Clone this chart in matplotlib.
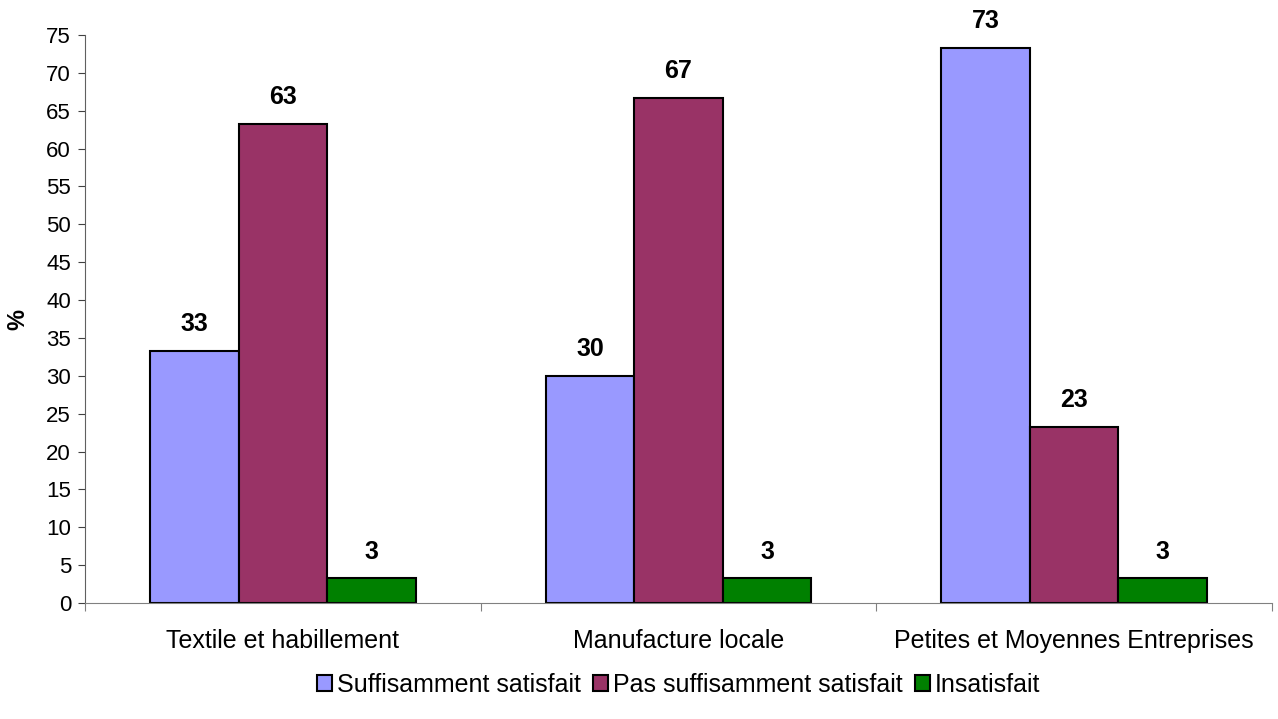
import numpy as np
import matplotlib.pyplot as plt

plt.rcParams['font.family'] = ['Liberation Sans', 'DejaVu Sans']

categories = ['Textile et habillement', 'Manufacture locale', 'Petites et Moyennes Entreprises']
series = ['Suffisamment satisfait', 'Pas suffisamment satisfait', 'Insatisfait']
values = [
    [33.3, 30.0, 73.3],
    [63.3, 66.7, 23.3],
    [3.3, 3.3, 3.3],
]
colors = ['#9999FF', '#993366', '#008000']

fig = plt.figure(figsize=(12.78, 7.19), dpi=100)
ax = fig.add_axes([85 / 1278, 1 - 603 / 719, (1272 - 85) / 1278, (603 - 35) / 719])

x = np.arange(len(categories))
w = 0.224
for i, (name, vals, c) in enumerate(zip(series, values, colors)):
    pos = x + (i - 1) * w
    ax.bar(pos, vals, width=w, color=c, edgecolor='black', linewidth=1.5, label=name)
    for p, v in zip(pos, vals):
        ax.text(p, v + 1.9, f'{v:.0f}', ha='center', va='bottom', fontsize=18, fontweight='bold')

ax.set_xlim(-0.5, 2.5)
ax.set_ylim(0, 75)
ax.set_yticks(np.arange(0, 76, 5))
ax.set_xticks([-0.5, 0.5, 1.5, 2.5])
ax.set_xticklabels([])
ax.set_xticks(x, minor=True)
ax.set_xticklabels(categories, minor=True)
ax.tick_params(axis='x', which='minor', length=0, pad=19, labelsize=18)
ax.tick_params(axis='x', which='major', length=6, direction='out', color='#808080')
ax.tick_params(axis='y', labelsize=16, length=5, color='#404040', pad=5)
ax.spines['top'].set_visible(False)
ax.spines['right'].set_visible(False)
ax.spines['left'].set_color('#606060')
ax.spines['bottom'].set_color('#808080')
ax.set_ylabel('%', fontsize=17, fontweight='bold', labelpad=12)

ax.legend(loc='center', bbox_to_anchor=(0.5, -0.144), ncol=3, frameon=False,
          fontsize=18, handlelength=0.6, handleheight=0.6, handletextpad=0.2,
          columnspacing=0.5)

fig.savefig('out.png', dpi=100)
